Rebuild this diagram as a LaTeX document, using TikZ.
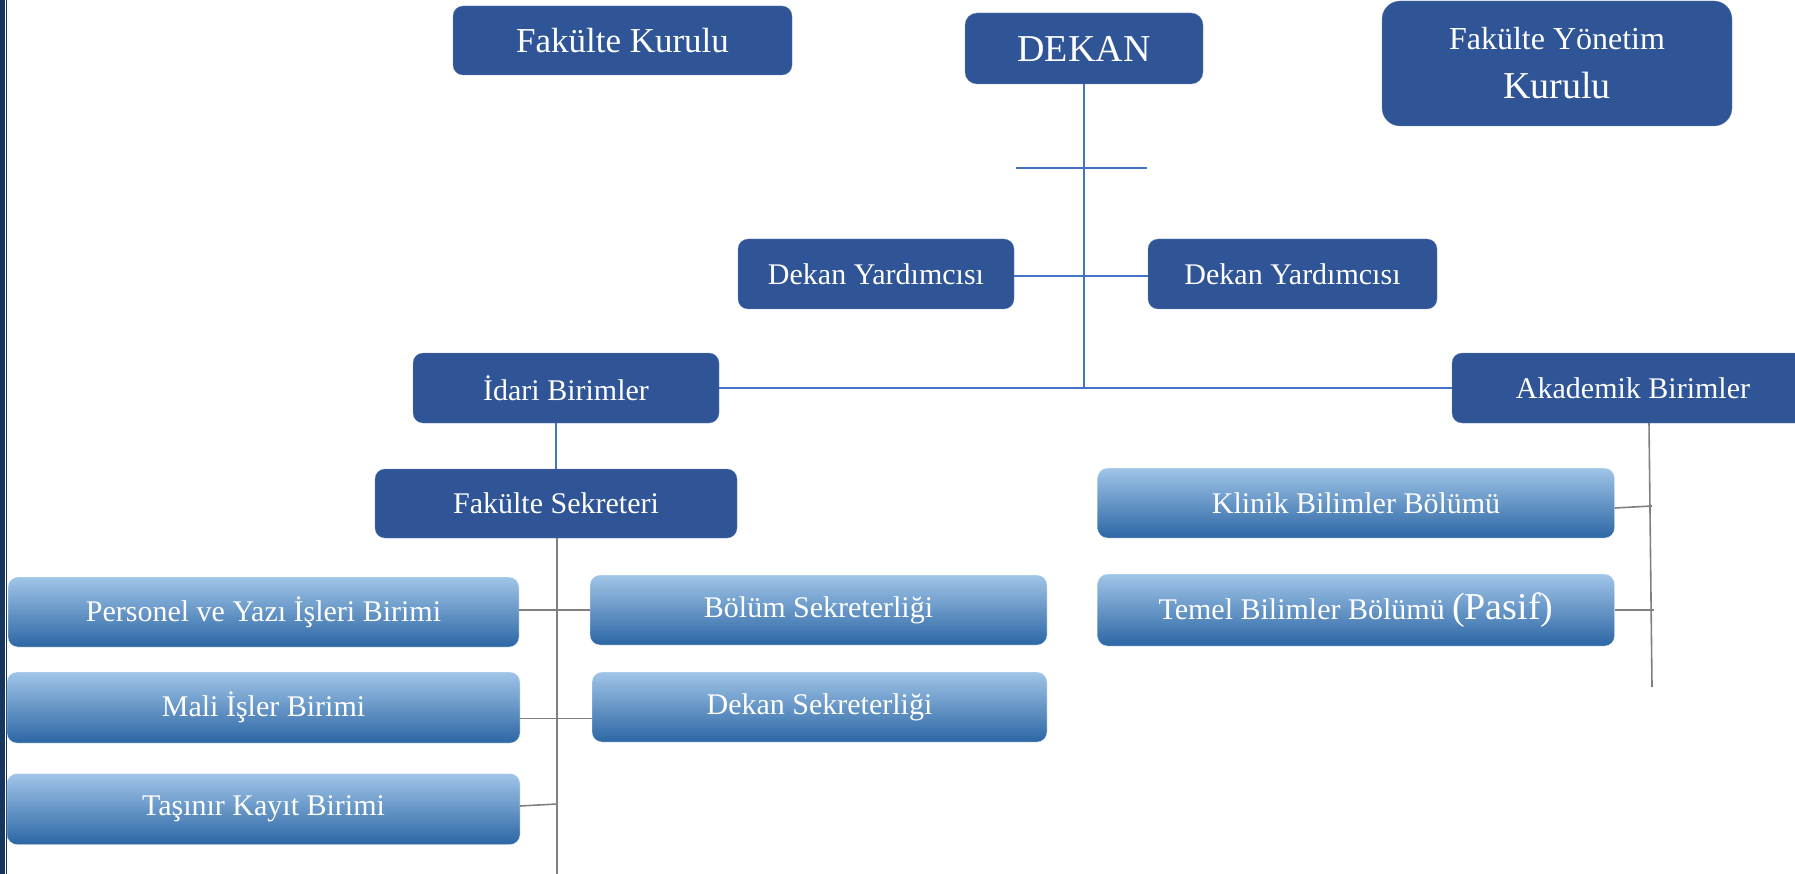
\documentclass[tikz,border=0pt]{standalone}
\usepackage{fontspec}
\setmainfont{Liberation Serif}
\usepackage{tikz}
\usepackage{xcolor}
\definecolor{boxblue}{RGB}{47,85,151}
\definecolor{linkblue}{RGB}{68,114,196}
\definecolor{framenavy}{RGB}{23,54,93}
\definecolor{shadetop}{RGB}{160,197,232}
\definecolor{shademid}{RGB}{91,155,213}
\definecolor{shadebottom}{RGB}{44,102,164}
\tikzset{
    dark-box/.style = {fill=boxblue, draw=boxblue!70!white, very thin, rectangle, rounded corners=10pt, inner sep=0pt, text=white, font=\fontsize{30}{36}\selectfont},
    light-box/.style = {top color=shadetop, middle color=shademid, bottom color=shadebottom, draw=white, very thin, rectangle, rounded corners=10pt, inner sep=0pt, text=white, font=\fontsize{30}{36}\selectfont},
    blue-link/.style = {draw=linkblue, line width=1.3pt},
    gray-link/.style = {draw=gray, line width=1.6pt},
}

\begin{document}
\begin{tikzpicture}[x=1pt, y=-1pt]
\path[clip] (0,0) rectangle (1795,874);

% left frame
\draw[framenavy, line width=5pt] (2.5,0) -- (2.5,874);
\draw[framenavy, line width=1.2pt] (6.6,0) -- (6.6,874);

% top row
\node[dark-box, minimum width=339pt, minimum height=69pt, font=\fontsize{35}{42}\selectfont] (fakkurul) at (622.5,40.5) {Fakülte Kurulu};
\node[dark-box, minimum width=238pt, minimum height=71pt, rounded corners=12pt, font=\fontsize{38}{44}\selectfont] (dekan) at (1084,48.5) {DEKAN};
\node[dark-box, minimum width=350pt, minimum height=125pt, rounded corners=18pt, align=center] (yonetim) at (1557,63.5)
    {\fontsize{32}{38}\selectfont Fakülte Yönetim\\[13pt]\fontsize{38}{44}\selectfont Kurulu};

% assistants
\node[dark-box, minimum width=276pt, minimum height=70pt] (yardL) at (876,274) {Dekan Yardımcısı};
\node[dark-box, minimum width=289pt, minimum height=70pt] (yardR) at (1292.5,274) {Dekan Yardımcısı};

% units
\node[dark-box, minimum width=306pt, minimum height=70pt] (idari) at (566,388) {İdari Birimler};
\node[dark-box, minimum width=362pt, minimum height=70pt] (akademik) at (1633,388) {Akademik Birimler};
\node[dark-box, minimum width=362pt, minimum height=69pt] (fsek) at (556,503.5) {Fakülte Sekreteri};

% administrative offices
\node[light-box, minimum width=511pt, minimum height=70pt] (personel) at (263.5,612) {Personel ve Yazı İşleri Birimi};
\node[light-box, minimum width=513pt, minimum height=71pt] (mali) at (263.5,707.5) {Mali İşler Birimi};
\node[light-box, minimum width=513pt, minimum height=71pt] (tasinir) at (263.5,809) {Taşınır Kayıt Birimi};
\node[light-box, minimum width=457pt, minimum height=70pt] (bolumsek) at (818.5,610) {Bölüm Sekreterliği};
\node[light-box, minimum width=455pt, minimum height=70pt] (dekansek) at (819.5,707) {Dekan Sekreterliği};

% academic departments
\node[light-box, minimum width=517pt, minimum height=70pt] (klinik) at (1356,503) {Klinik Bilimler Bölümü};
\node[light-box, minimum width=517pt, minimum height=72pt] (temel) at (1356,610) {Temel Bilimler Bölümü {\fontsize{38}{44}\selectfont(Pasif)}};

% blue connectors
\coordinate (crossL) at (1016,168);
\coordinate (crossR) at (1147,168);
\draw[blue-link] (dekan.south) -- (dekan.south |- idari.east);
\draw[blue-link] (crossL) -- (crossR);
\draw[blue-link] ([yshift=-2pt]yardL.east) -- ([yshift=-2pt]yardR.west);
\draw[blue-link] (idari.east) -- (akademik.west);
\draw[blue-link] (fsek.north |- idari.south) -- (fsek.north);

% gray connectors
\coordinate (fsekEnd) at (557,880);
\coordinate (akadEnd) at (1652,687);
\draw[gray-link] ([xshift=1pt]fsek.south) -- (fsekEnd);
\draw[gray-link] ([yshift=2pt]personel.east) -- ([yshift=2pt]personel.east -| bolumsek.west);
\draw[gray-link] ([yshift=-11pt]mali.east) -- ([yshift=-11pt]mali.east -| dekansek.west);
\draw[gray-link] ([yshift=3pt]tasinir.east) -- ([yshift=5pt]tasinir.east -| fsekEnd);
\draw[gray-link] ([xshift=16pt]akademik.south) -- (akadEnd);
\draw[gray-link] ([yshift=-5pt]klinik.east) -- ([yshift=-3pt]klinik.east -| akadEnd);
\draw[gray-link] (temel.east) -- ++(39,0);
\end{tikzpicture}
\end{document}
